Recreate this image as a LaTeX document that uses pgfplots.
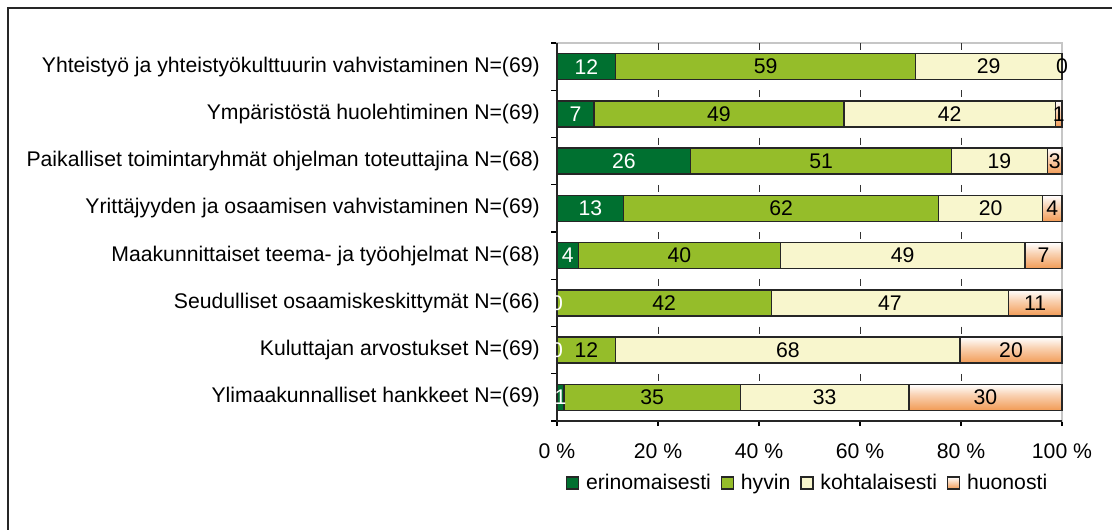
\documentclass[border=0pt]{standalone}
\usepackage{fontspec}
\setmainfont{Liberation Sans}
\usepackage{pgfplots}
\pgfplotsset{compat=1.18}

\definecolor{erino}{RGB}{0,112,48}
\definecolor{hyvin}{RGB}{149,189,42}
\definecolor{kohta}{RGB}{248,246,205}
\definecolor{huono}{RGB}{242,155,85}
\colorlet{huonomid}{huono!45!white}

% one white-to-orange gradient per bar (rows mapped onto the 25bp..75bp band)
\pgfdeclareverticalshading{huonoshade}{100bp}{
  color(0bp)=(huono); color(25bp)=(huono); color(27.2bp)=(huonomid); color(28.644bp)=(white);
  color(31.622bp)=(huono); color(33.8bp)=(huonomid); color(35.266bp)=(white);
  color(38.244bp)=(huono); color(40.4bp)=(huonomid); color(41.888bp)=(white);
  color(44.866bp)=(huono); color(47.0bp)=(huonomid); color(48.510bp)=(white);
  color(51.488bp)=(huono); color(53.6bp)=(huonomid); color(55.132bp)=(white);
  color(58.110bp)=(huono); color(60.3bp)=(huonomid); color(61.754bp)=(white);
  color(64.732bp)=(huono); color(66.9bp)=(huonomid); color(68.376bp)=(white);
  color(71.354bp)=(huono); color(73.5bp)=(huonomid); color(75bp)=(white);
  color(100bp)=(white)}

\begin{document}
\begin{tikzpicture}
\useasboundingbox (0,0) rectangle (834pt,396.75pt);
\draw[black!85, line width=1.1pt] (6pt,-5pt) -- (6pt,390.75pt) -- (840pt,390.75pt);
\begin{axis}[
    at={(417.75pt,81pt)}, anchor=south west,
    scale only axis, width=378.75pt, height=283.5pt,
    font=\fontsize{15.9}{18}\selectfont,
    /pgf/number format/assume math mode=true,
    clip=false,
    xbar stacked, bar width=19.5pt,
    xmin=0, xmax=100, ymin=0.5, ymax=8.5, y dir=reverse,
    xtick={0,20,40,60,80,100},
    xticklabels={0 \%,20 \%,40 \%,60 \%,80 \%,100 \%},
    extra x ticks={20,40,60,80}, extra x tick labels={},
    extra x tick style={grid=major, major tick length=0pt},
    grid style={black!80, line width=0.7pt, dash pattern=on 5.25pt off 30.1875pt},
    ytick={1,...,8},
    yticklabels={
      Yhteistyö ja yhteistyökulttuurin vahvistaminen N=(69),
      Ympäristöstä huolehtiminen N=(69),
      Paikalliset toimintaryhmät ohjelman toteuttajina N=(68),
      Yrittäjyyden ja osaamisen vahvistaminen N=(69),
      Maakunnittaiset teema- ja työohjelmat N=(68),
      Seudulliset osaamiskeskittymät N=(66),
      Kuluttajan arvostukset N=(69),
      Ylimaakunnalliset hankkeet N=(69)},
    minor ytick={0.5,1.5,...,8.5},
    every major y tick/.append style={draw=none},
    every minor y tick/.append style={black, line width=0.8pt},
    tick align=outside, major tick length=3.75pt, minor tick length=4.5pt,
    every major x tick/.append style={black, line width=0.8pt},
    xtick pos=bottom, ytick pos=left,
    yticklabel style={inner sep=0pt, xshift=-9pt},
    xticklabel style={yshift=-10pt},
    axis line style={gray!45, line width=0.8pt},
    nodes near coords, point meta=explicit,
    every node near coord/.append style={text=black},
    legend style={draw=none, at={(0.497,-0.164)}, anchor=center,
      legend columns=4, font=\fontsize{15.9}{18}\selectfont,
      /tikz/every odd column/.append style={column sep=3pt},
      /tikz/every even column/.append style={column sep=5.5pt},
      legend cell align=left, inner sep=0pt},
    legend image code/.code={\draw[#1] (0pt,-4.5pt) rectangle (9pt,4.5pt);},
]
\addplot[draw=black!85, line width=1pt, fill=erino,
  every node near coord/.append style={text=white}] coordinates
  {(11.6,1) [12] (7.3,2) [7] (26.5,3) [26] (13.2,4) [13]
   (4.3,5) [4] (0.01,6) [0] (0.01,7) [0] (1.4,8) [1]};
\addplot[draw=black!85, line width=1pt, fill=hyvin] coordinates
  {(59.4,1) [59] (49.5,2) [49] (51.6,3) [51] (62.4,4) [62]
   (39.9,5) [40] (42.4,6) [42] (11.6,7) [12] (34.9,8) [35]};
\addplot[draw=black!85, line width=1pt, fill=kohta] coordinates
  {(28.98,1) [29] (41.9,2) [42] (19.0,3) [19] (20.5,4) [20]
   (48.5,5) [49] (47.0,6) [47] (68.2,7) [68] (33.4,8) [33]};
\addplot[draw=black!85, line width=1pt, shade, shading=huonoshade,
  legend image code/.code={\draw[draw=black!85, line width=1pt, top color=white,
    bottom color=huono] (0pt,-4.5pt) rectangle (9pt,4.5pt);}] coordinates
  {(0.01,1) [0] (1.3,2) [1] (2.9,3) [3] (3.9,4) [4]
   (7.3,5) [7] (10.58,6) [11] (20.18,7) [20] (30.3,8) [30]};
\legend{erinomaisesti, hyvin, kohtalaisesti, huonosti}
\draw[black!85, line width=1pt] (rel axis cs:0,1) -- (rel axis cs:0,0) -- (rel axis cs:1,0);
\end{axis}
\end{tikzpicture}
\end{document}
